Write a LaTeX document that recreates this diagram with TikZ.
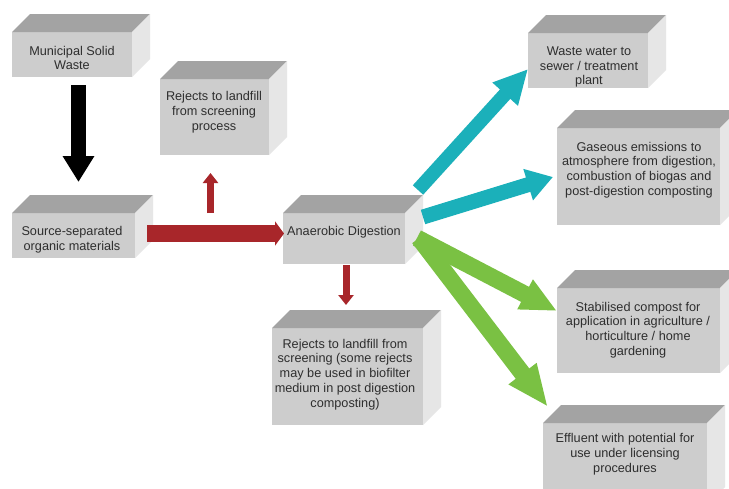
\documentclass[tikz,border=0pt]{standalone}
\usepackage{fontspec}
\setmainfont{Liberation Sans}
\usetikzlibrary{arrows.meta,calc}

\definecolor{facefront}{HTML}{CDCDCD}
\definecolor{facetop}{HTML}{A3A3A3}
\definecolor{faceside}{HTML}{E6E6E6}
\definecolor{labelgrey}{HTML}{2E2E2E}
\definecolor{flowred}{HTML}{A8262A}
\definecolor{flowcyan}{HTML}{1BB0BA}
\definecolor{flowgreen}{HTML}{7AC143}

\tikzset{
  face/.style={fill=facefront, inner sep=0pt, outer sep=0pt},
  txt/.style={align=center, text=labelgrey, font=\fontsize{12.7}{14.8}\selectfont, inner sep=0pt},
  blockarrow/.style n args={3}{line width=#1, line cap=butt, -{Triangle[width=#2,length=#3]}},
}

% top and right faces of a block whose front face is node #1
\newcommand\cubefaces[1]{%
  \fill[facetop] (#1.north west) -- ++(18,-18) -- ($(#1.north east)+(18,-18)$) -- (#1.north east) -- cycle;
  \fill[faceside] (#1.north east) -- ++(18,-18) -- ($(#1.south east)+(18,-18)$) -- (#1.south east) -- cycle;}

\begin{document}
\begin{tikzpicture}[x=1pt, y=-1pt]
\fill[white] (0,0) rectangle (729,488);
\clip (0,0) rectangle (729,488);

% front faces
\node[face, minimum width=120pt, minimum height=45pt] (msw)  at (72,54.5)    {};
\node[face, minimum width=109pt, minimum height=76pt] (rej1) at (214.5,117)  {};
\node[face, minimum width=123pt, minimum height=45pt] (src)  at (73.5,235.5) {};
\node[face, minimum width=122pt, minimum height=51pt] (ad)   at (344,238.5)  {};
\node[face, minimum width=151pt, minimum height=97pt] (rej2) at (347.5,376.5) {};
\node[face, minimum width=120pt, minimum height=55pt] (ww)   at (588,60.5)   {};
\node[face, minimum width=163pt, minimum height=97pt] (gas)  at (638.5,176.5) {};
\node[face, minimum width=163pt, minimum height=85pt] (comp) at (638.5,330.5) {};
\node[face, minimum width=164pt, minimum height=82pt] (eff)  at (625,464)    {};

\cubefaces{msw}
\cubefaces{rej1}
\cubefaces{src}
\cubefaces{ad}
\cubefaces{rej2}
\cubefaces{ww}
\cubefaces{gas}
\cubefaces{comp}
\cubefaces{eff}

% labels
\node[txt] (msw-t)  at (72,58)     {Municipal Solid\\Waste};
\node[txt] (rej1-t) at (214,112)   {Rejects to landfill\\from screening\\process};
\node[txt] (src-t)  at (72,240)    {Source-separated\\organic materials};
\node[txt] (ad-t)   at (344,232)   {Anaerobic Digestion};
\node[txt] (rej2-t) at (345,374.5) {Rejects to landfill from\\screening (some rejects\\may be used in biofilter\\medium in post digestion\\composting)};
\node[txt] (ww-t)   at (589,67)    {Waste water to\\sewer / treatment\\plant};
\node[txt] (gas-t)  at (639,170)   {Gaseous emissions to\\atmosphere from digestion,\\combustion of biogas and\\post-digestion composting};
\node[txt] (comp-t) at (638,330)   {Stabilised compost for\\application in agriculture /\\horticulture / home\\gardening};
\node[txt] (eff-t)  at (625,454)   {Effluent with potential for\\use under licensing\\procedures};

% flows
\draw[blockarrow={15pt}{30pt}{26pt}, black]
  ($(msw.south)+(6.5,8)$) -- ($(src.north)+(5,-31)$);
\draw[blockarrow={17pt}{24pt}{9pt}, flowred]
  ($(src.east)+(12,-2)$) -- ($(ad.west)+(1,-5)$);
\draw[blockarrow={7pt}{15pt}{10pt}, flowred]
  ($(rej1.south)+(-4,58)$) -- ($(rej1.south)+(-4,18)$);
\draw[blockarrow={7pt}{15pt}{10pt}, flowred]
  ($(ad.south)+(2,1)$) -- ($(rej2.north)+(-1.5,-23)$);
\draw[blockarrow={14pt}{32pt}{34pt}, flowcyan]
  ($(ad.east)+(13,-48.5)$) -- ($(ww.west)+(0,8.5)$);
\draw[blockarrow={15pt}{31pt}{26pt}, flowcyan]
  ($(ad.east)+(18,-21.5)$) -- ($(gas.west)+(-4,0.5)$);
\draw[blockarrow={17pt}{31pt}{36pt}, flowgreen]
  ($(ad.east)+(12,-0.5)$) -- ($(comp.west)+(0,-19.5)$);
\draw[blockarrow={17pt}{32pt}{42pt}, flowgreen]
  ($(ad.east)+(14,-0.5)$) -- ($(eff.north west)+(5,-16)$);
\end{tikzpicture}
\end{document}
